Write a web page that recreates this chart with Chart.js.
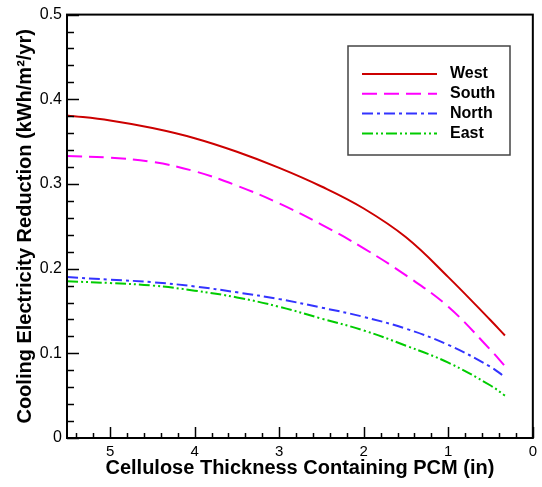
<!DOCTYPE html>
<html>
<head>
<meta charset="utf-8">
<script src="https://cdn.jsdelivr.net/npm/chart.js@4/dist/chart.umd.min.js"></script>
<style>
  html, body { margin: 0; padding: 0; background: #fff; }
  #wrap { width: 542px; height: 487px; }
</style>
</head>
<body>
<div id="wrap"><canvas id="c" width="542" height="487"></canvas></div>
<script>
// ---- data ----
const thickness = [5.51, 5.0, 4.5, 4.0, 3.5, 3.0, 2.5, 2.0, 1.5, 1.0, 0.5, 0.33];
const west  = [0.381, 0.375, 0.366, 0.354, 0.338, 0.319, 0.297, 0.271, 0.237, 0.190, 0.139, 0.121];
const south = [0.333, 0.331, 0.326, 0.315, 0.298, 0.277, 0.252, 0.224, 0.192, 0.155, 0.104, 0.085];
const north = [0.190, 0.187, 0.184, 0.179, 0.172, 0.164, 0.154, 0.143, 0.129, 0.110, 0.084, 0.072];
const east  = [0.185, 0.183, 0.180, 0.174, 0.166, 0.155, 0.141, 0.127, 0.109, 0.089, 0.062, 0.050];
const seriesNames = ['West', 'South', 'North', 'East'];
const xTitle = 'Cellulose Thickness Containing PCM (in)';
const yTitle = 'Cooling Electricity Reduction (kWh/m\u00B2/yr)';

const FONT = '"Liberation Sans", Arial, Helvetica, sans-serif';
const colors = ['#cc0000', '#ff00ff', '#3333ff', '#00cc00'];
const dashes = [[], [15, 7], [11, 4, 3, 4], [11, 3, 2, 3, 2, 3]];
const values = [west, south, north, east];

const datasets = seriesNames.map((name, i) => ({
  label: name,
  data: thickness.map((x, j) => ({ x: x, y: values[i][j] })),
  borderColor: colors[i],
  backgroundColor: colors[i],
  borderWidth: 2,
  borderDash: dashes[i],
  pointRadius: 0,
  fill: false,
  tension: 0.4
}));

const framePlugin = {
  id: 'frameTicks',
  afterDatasetsDraw(chart) {
    const ctx = chart.ctx;
    const a = chart.chartArea;
    const xs = chart.scales.x, ys = chart.scales.y;
    ctx.save();
    ctx.strokeStyle = '#000';
    ctx.lineWidth = 1.5;
    // y ticks (inward from left)
    for (let k = 0; k <= 25; k++) {
      const v = k * 0.02;
      const py = Math.round(ys.getPixelForValue(v)) + 0.5;
      const len = (k % 5 === 0) ? 12 : 7;
      ctx.beginPath(); ctx.moveTo(a.left, py); ctx.lineTo(a.left + len, py); ctx.stroke();
    }
    // x ticks (inward from bottom)
    for (let k = 0; k <= 27; k++) {
      const v = k * 0.2;
      const px = Math.round(xs.getPixelForValue(v)) + 0.5;
      const len = (k % 5 === 0) ? 11 : 5;
      ctx.beginPath(); ctx.moveTo(px, a.bottom); ctx.lineTo(px, a.bottom - len); ctx.stroke();
    }
    // frame
    ctx.lineWidth = 2;
    ctx.strokeRect(a.left, a.top, a.right - a.left, a.bottom - a.top);

    // legend box
    const bx = 348, by = 46, bw = 162, bh = 109;
    ctx.fillStyle = '#fff';
    ctx.fillRect(bx, by, bw, bh);
    ctx.strokeStyle = '#444';
    ctx.lineWidth = 1.5;
    ctx.strokeRect(bx, by, bw, bh);
    ctx.font = 'bold 16px ' + FONT;
    ctx.textBaseline = 'middle';
    ctx.textAlign = 'left';
    chart.data.datasets.forEach((ds, i) => {
      const y = 74 + i * 19.8;
      ctx.strokeStyle = ds.borderColor;
      ctx.lineWidth = 2;
      ctx.setLineDash(ds.borderDash);
      ctx.beginPath(); ctx.moveTo(362, y); ctx.lineTo(437, y); ctx.stroke();
      ctx.setLineDash([]);
      ctx.fillStyle = '#000';
      ctx.fillText(ds.label, 450, y);
    });
    ctx.restore();
  }
};

new Chart(document.getElementById('c'), {
  type: 'line',
  data: { datasets: datasets },
  plugins: [framePlugin],
  options: {
    responsive: false,
    animation: false,
    devicePixelRatio: 1,
    layout: { padding: { top: 13, right: 6, left: 0, bottom: 0 } },
    plugins: { legend: { display: false }, tooltip: { enabled: false } },
    scales: {
      x: {
        type: 'linear',
        reverse: true,
        min: 0,
        max: 5.51,
        afterFit(s) { s.height = 49; },
        border: { display: false },
        grid: { display: false, drawTicks: false },
        ticks: {
          stepSize: 1,
          includeBounds: false,
          padding: 5,
          maxRotation: 0,
          color: '#000',
          font: { family: FONT, size: 15 }
        },
        title: {
          display: true,
          text: xTitle,
          color: '#000',
          font: { family: FONT, size: 20, weight: 'bold' },
          padding: { top: 0, bottom: 7 }
        }
      },
      y: {
        type: 'linear',
        min: 0,
        max: 0.5,
        afterFit(s) { s.width = 67; },
        border: { display: false },
        grid: { display: false, drawTicks: false },
        ticks: {
          stepSize: 0.1,
          padding: 5,
          color: '#000',
          font: { family: FONT, size: 16 }
        },
        title: {
          display: true,
          text: yTitle,
          color: '#000',
          font: { family: FONT, size: 20, weight: 'bold' },
          padding: { top: 13.5, bottom: 0 }
        }
      }
    }
  }
});
</script>
</body>
</html>
